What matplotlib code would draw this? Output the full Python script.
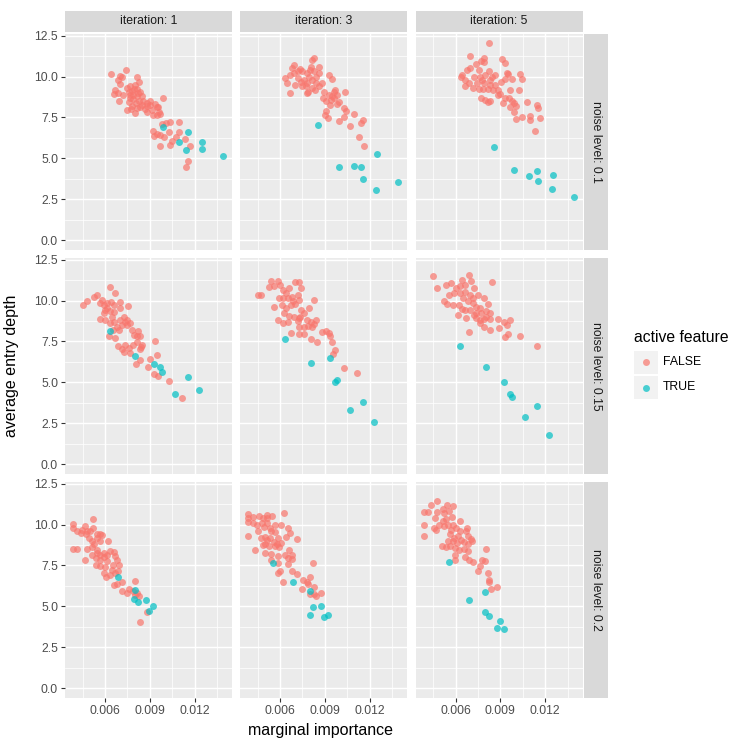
import matplotlib
matplotlib.use("Agg")
import matplotlib.pyplot as plt
from matplotlib.patches import Rectangle

plt.rcParams['font.family'] = ['Liberation Sans', 'DejaVu Sans']

iterations = [1, 3, 5]
noise_levels = [0.1, 0.15, 0.2]
legend_labels = ["FALSE", "TRUE"]
x_ticks = [6, 9, 12]          # marginal importance in units of 1e-3
x_tick_labels = ["0.006", "0.009", "0.012"]
y_ticks = [0.0, 2.5, 5.0, 7.5, 10.0, 12.5]
y_tick_labels = ["0.0", "2.5", "5.0", "7.5", "10.0", "12.5"]

# ---------------- noise 0.1, iteration 1 ----------------
t_x_01_1 = [9.89, 11.55, 10.95, 12.48, 11.44, 12.50, 13.93]
t_y_01_1 = [6.90, 6.59, 5.98, 6.02, 5.51, 5.57, 5.14]
f_x_01_1 = [6.40, 6.97, 7.41, 7.15, 6.84, 6.97, 8.17, 8.28, 6.69, 6.84, 6.62, 6.91, 7.19, 7.46, 7.97,
            7.68, 7.79, 7.90, 8.12, 8.34, 8.01, 7.64, 8.17, 7.86, 8.08, 7.79, 8.17, 8.45, 8.67, 8.56,
            9.00, 8.83, 9.12, 9.34, 9.56, 9.85, 9.23, 9.49, 9.71, 9.58, 10.07, 10.33, 10.95, 9.78, 9.18,
            9.29, 9.45, 9.71, 9.96, 10.29, 10.73, 10.46, 10.38, 9.67, 11.33, 11.66, 11.53, 11.39, 10.93,
            8.34, 7.57, 7.72, 8.83, 7.46, 7.57, 8.45, 8.78, 8.30, 7.95, 7.68, 8.23, 9.45, 9.00]
f_y_01_1 = [10.14, 10.06, 10.41, 10.00, 9.80, 9.55, 10.00, 9.65, 9.18, 8.98, 8.94, 8.51, 8.86, 7.96, 7.76,
            9.39, 9.14, 8.88, 9.22, 9.08, 9.49, 8.88, 8.78, 8.61, 8.41, 8.20, 8.10, 8.27, 8.00, 8.53,
            8.53, 8.20, 7.96, 8.33, 8.16, 8.67, 7.65, 7.65, 7.71, 7.86, 7.18, 7.24, 7.22, 7.10, 6.67,
            6.37, 6.49, 6.43, 6.31, 6.59, 6.33, 6.08, 5.82, 5.78, 6.16, 5.76, 4.86, 4.49, 6.63,
            8.16, 8.47, 8.04, 7.86, 9.29, 9.08, 8.78, 8.41, 8.51, 9.22, 8.67, 8.98, 8.12, 8.27]

# ---------------- noise 0.1, iteration 3 ----------------
t_x_01_3 = [8.54, 12.50, 9.93, 10.95, 11.44, 11.55, 12.45, 13.91]
t_y_01_3 = [7.02, 5.27, 4.47, 4.55, 4.47, 3.71, 3.08, 3.53]
f_x_01_3 = [8.30, 8.17, 6.95, 6.80, 7.33, 8.06, 8.61, 6.35, 6.44, 6.66, 6.95, 7.17, 7.02, 6.69, 7.50,
            7.77, 7.99, 8.28, 8.39, 7.61, 7.83, 8.12, 7.90, 8.12, 8.34, 8.78, 8.61, 7.72, 7.39, 9.27,
            9.49, 10.38, 9.27, 9.60, 9.71, 8.87, 9.05, 9.38, 9.60, 9.93, 9.82, 9.32, 10.27, 10.42, 9.05,
            9.00, 9.18, 10.27, 10.93, 9.96, 10.71, 11.55, 11.42, 11.30, 11.61, 8.94, 8.39, 7.50, 7.83,
            7.17, 8.61, 7.94, 9.82, 9.49]
f_y_01_3 = [11.14, 11.02, 10.71, 10.51, 10.45, 10.57, 10.61, 9.90, 9.63, 10.10, 10.20, 9.90, 9.49, 8.98, 10.31,
            10.20, 10.37, 10.31, 10.00, 9.80, 9.63, 9.80, 9.08, 9.29, 9.18, 9.63, 9.39, 9.39, 9.69, 10.10,
            9.84, 9.04, 8.88, 9.08, 9.18, 8.67, 8.53, 8.57, 8.67, 8.47, 8.33, 8.27, 8.06, 7.90, 7.90,
            7.65, 7.45, 7.55, 7.71, 7.29, 6.98, 7.35, 7.14, 6.33, 5.76, 9.08, 9.59, 9.39, 8.98,
            10.31, 10.20, 10.00, 8.88, 8.78]

# ---------------- noise 0.1, iteration 5 ----------------
t_x_01_5 = [8.59, 9.93, 10.95, 11.46, 12.52, 11.55, 12.48, 13.93]
t_y_01_5 = [5.71, 4.31, 3.94, 4.22, 4.00, 3.61, 3.10, 2.61]
f_x_01_5 = [8.25, 6.95, 7.92, 7.72, 7.92, 7.39, 9.09, 9.34, 6.99, 6.77, 7.55, 6.44, 6.33, 6.66, 6.88,
            6.66, 7.17, 7.44, 7.77, 7.99, 8.21, 8.43, 8.65, 7.92, 8.28, 8.14, 8.50, 7.83, 7.55, 9.03,
            9.32, 9.54, 9.43, 9.76, 10.31, 10.42, 9.67, 10.27, 8.87, 8.98, 8.81, 9.32, 9.58, 9.76, 9.93,
            10.04, 9.65, 9.91, 7.72, 7.99, 8.14, 8.32, 10.75, 11.42, 11.55, 10.04, 10.46, 10.97, 10.97,
            11.64, 11.33, 9.20, 8.65, 7.20, 7.66, 8.32]
f_y_01_5 = [12.06, 11.27, 11.12, 10.96, 10.88, 10.78, 11.06, 10.84, 10.51, 10.41, 10.41, 10.10, 10.00, 9.80, 9.59,
            9.39, 9.29, 9.59, 9.80, 10.10, 10.31, 10.00, 10.10, 9.59, 9.49, 9.22, 9.18, 9.22, 9.22, 9.65,
            9.84, 10.16, 10.20, 9.86, 10.16, 9.84, 9.16, 9.18, 9.18, 8.94, 8.88, 8.71, 8.71, 8.53, 8.41,
            8.20, 8.12, 7.86, 8.67, 8.57, 8.47, 8.53, 8.47, 8.27, 8.10, 7.39, 7.55, 7.61, 7.33,
            7.45, 6.69, 8.41, 9.49, 10.00, 10.00, 9.80]

# ---------------- noise 0.15, iteration 1 ----------------
t_x_015_1 = [6.35, 8.03, 9.29, 9.67, 9.78, 11.53, 12.32, 10.69]
t_y_015_1 = [8.14, 6.59, 6.12, 5.94, 5.63, 5.31, 4.53, 4.27]
f_x_015_1 = [6.31, 6.69, 5.25, 5.43, 4.76, 4.54, 5.65, 5.91, 6.13, 6.40, 6.57, 6.97, 7.52, 6.02, 6.31,
             5.91, 6.62, 7.02, 5.69, 6.02, 6.35, 6.57, 7.24, 7.35, 7.64, 7.13, 6.80, 6.53, 6.24, 6.69,
             6.91, 7.79, 8.23, 7.94, 8.12, 8.34, 7.90, 8.41, 8.34, 7.35, 6.84, 7.13, 7.28, 7.68, 8.34,
             8.08, 9.32, 9.45, 9.03, 8.85, 9.27, 9.56, 10.29, 11.15, 8.45, 7.46, 6.13, 5.82, 6.46,
             6.97, 7.46, 8.17, 7.57]
f_y_015_1 = [10.82, 10.45, 10.24, 10.31, 9.94, 9.73, 9.84, 9.73, 9.84, 9.90, 9.73, 9.90, 9.67, 9.43, 9.33,
             9.22, 9.29, 9.53, 8.88, 8.82, 8.61, 8.71, 9.02, 8.71, 8.61, 8.51, 8.41, 8.20, 7.80, 7.69,
             8.20, 8.20, 8.16, 7.90, 7.80, 7.80, 7.29, 7.18, 7.02, 7.29, 7.22, 7.04, 6.84, 6.80, 6.37,
             6.10, 7.53, 6.69, 6.41, 5.96, 5.53, 5.37, 5.08, 4.04, 7.29, 8.82, 9.53, 10.04, 9.02,
             8.82, 8.51, 7.49, 7.08]

# ---------------- noise 0.15, iteration 3 ----------------
t_x_015_3 = [6.35, 8.06, 9.32, 9.71, 9.80, 11.53, 10.69, 12.32]
t_y_015_3 = [7.67, 6.20, 6.47, 5.04, 5.12, 3.80, 3.31, 2.55]
f_x_015_3 = [5.40, 5.85, 5.25, 5.62, 7.02, 7.28, 7.41, 6.02, 4.52, 4.74, 6.18, 6.62, 6.40, 5.91, 6.18,
             6.51, 6.80, 7.17, 7.24, 8.28, 5.56, 6.13, 6.40, 6.73, 7.02, 7.39, 7.94, 7.61, 6.29, 6.62,
             6.95, 7.28, 5.87, 6.22, 7.77, 8.06, 8.39, 8.28, 7.28, 7.61, 7.90, 8.12, 6.73, 7.28, 7.61,
             8.06, 8.50, 8.78, 9.05, 9.27, 9.34, 9.45, 9.65, 9.56, 10.27, 11.15, 6.84, 7.35, 7.17, 6.55]
f_y_015_3 = [11.20, 11.22, 10.80, 10.86, 11.16, 11.12, 10.76, 10.92, 10.35, 10.33, 10.65, 10.76, 10.45, 10.14, 10.14,
             10.14, 10.24, 10.35, 10.04, 10.02, 9.63, 9.73, 9.53, 9.73, 9.78, 9.43, 9.57, 9.22, 9.22, 9.08,
             9.02, 8.92, 8.80, 8.63, 8.82, 8.71, 8.78, 8.55, 8.35, 8.41, 8.47, 8.35, 8.04, 7.94, 7.94,
             7.63, 7.45, 8.06, 8.16, 8.00, 7.86, 7.49, 6.98, 6.73, 5.90, 5.55, 9.94, 9.02, 8.73, 8.71]

# ---------------- noise 0.15, iteration 5 ----------------
t_x_015_5 = [6.31, 8.01, 9.27, 9.65, 9.76, 11.48, 10.64, 12.28]
t_y_015_5 = [7.24, 5.94, 5.04, 4.29, 4.10, 3.53, 2.86, 1.78]
f_x_015_5 = [4.52, 6.91, 4.74, 5.34, 5.67, 6.44, 7.02, 8.41, 6.00, 6.29, 6.62, 7.22, 5.91, 6.29, 5.58,
             6.62, 6.95, 7.50, 7.88, 6.51, 5.23, 5.40, 5.80, 6.24, 6.84, 7.17, 7.39, 7.66, 8.19, 6.62,
             6.95, 8.01, 8.30, 6.18, 6.73, 7.22, 7.39, 7.66, 7.88, 8.06, 7.61, 7.88, 8.28, 8.83, 9.25,
             9.47, 9.65, 8.94, 9.54, 9.29, 10.29, 6.93, 11.48, 7.17, 7.72, 6.40, 8.28, 7.39]
f_y_015_5 = [11.51, 11.57, 10.76, 10.92, 11.10, 11.27, 11.20, 11.16, 10.76, 10.86, 10.96, 10.76, 10.45, 10.45, 10.31,
             10.55, 10.35, 10.35, 10.18, 10.14, 9.98, 9.78, 9.73, 9.73, 9.94, 9.84, 9.63, 9.57, 9.78, 9.43,
             9.43, 9.33, 9.22, 9.10, 8.96, 9.12, 8.92, 8.80, 8.86, 9.02, 8.61, 8.41, 8.18, 8.86, 8.67,
             8.51, 8.80, 8.31, 7.96, 7.76, 7.86, 8.06, 7.24, 10.14, 9.22, 9.49, 8.86, 9.22]

# ---------------- noise 0.2, iteration 1 ----------------
t_x_02_1 = [6.84, 8.01, 7.94, 8.19, 8.76, 9.20, 8.96]
t_y_02_1 = [6.78, 5.98, 5.47, 5.29, 5.39, 5.02, 4.73]
f_x_02_1 = [3.88, 3.88, 4.10, 4.36, 4.63, 4.76, 5.16, 5.18, 4.98, 4.70, 5.65, 5.80, 5.47, 5.14, 6.20,
            5.69, 3.88, 4.14, 4.81, 5.14, 5.25, 5.43, 4.63, 5.47, 5.69, 5.91, 6.13, 6.35, 6.57, 5.36,
            5.65, 5.96, 6.68, 6.80, 5.36, 5.69, 5.98, 6.53, 6.91, 6.46, 5.93, 6.04, 6.33, 6.68, 6.86,
            7.13, 6.62, 6.80, 7.97, 7.13, 7.46, 7.57, 7.86, 8.12, 8.25, 8.01, 8.78, 8.34, 5.47, 4.92,
            4.47, 6.13, 5.14]
f_y_02_1 = [10.04, 9.80, 9.63, 9.49, 9.90, 9.59, 10.31, 9.80, 9.59, 9.39, 9.43, 9.35, 9.18, 8.98, 9.02,
            8.98, 8.53, 8.53, 8.53, 8.61, 8.78, 8.47, 7.80, 8.27, 8.16, 8.27, 8.12, 8.41, 8.33, 7.96,
            7.86, 8.00, 8.06, 7.86, 7.55, 7.45, 7.39, 7.51, 7.51, 7.24, 7.04, 6.78, 6.94, 7.04, 7.14,
            6.49, 6.29, 6.37, 6.53, 5.92, 5.82, 6.06, 5.92, 5.82, 5.61, 5.67, 4.65, 4.04, 9.39, 9.18,
            9.69, 7.76, 8.16]

# ---------------- noise 0.2, iteration 3 ----------------
t_x_02_3 = [5.54, 6.86, 7.97, 8.21, 8.76, 7.97, 8.96, 9.20]
t_y_02_3 = [7.65, 6.51, 5.96, 4.94, 5.02, 4.49, 4.33, 4.45]
f_x_02_3 = [3.88, 3.88, 3.88, 4.17, 4.17, 4.61, 5.09, 5.14, 5.47, 6.25, 4.87, 4.76, 5.14, 4.92, 4.54,
            4.70, 3.88, 4.32, 4.83, 5.31, 5.65, 6.09, 6.53, 5.42, 5.65, 6.69, 6.38, 7.15, 4.96, 5.11,
            5.33, 5.56, 5.78, 5.89, 5.00, 5.25, 5.00, 5.38, 5.67, 5.94, 5.85, 6.34, 6.62, 6.78, 6.82,
            6.56, 5.36, 5.89, 8.19, 6.82, 7.15, 5.98, 5.87, 6.18, 7.52, 7.79, 8.01, 7.86, 8.25, 7.46,
            8.01, 8.30, 8.41, 8.76, 6.56, 6.09, 4.43]
f_y_02_3 = [10.65, 10.41, 10.16, 10.45, 10.10, 10.51, 10.57, 10.41, 10.51, 10.71, 10.37, 10.10, 10.10, 9.84, 9.63,
            9.18, 9.27, 8.47, 8.73, 9.80, 10.00, 10.00, 9.76, 9.59, 9.53, 9.49, 9.22, 9.12, 9.22, 9.08,
            9.18, 8.94, 8.78, 9.18, 8.78, 8.67, 8.27, 8.20, 8.67, 8.61, 8.06, 8.16, 8.47, 8.16, 7.90,
            7.59, 7.80, 7.63, 7.65, 7.18, 6.98, 7.14, 7.02, 6.51, 6.63, 6.49, 6.80, 6.37, 6.20, 6.08,
            5.78, 5.78, 5.61, 5.82, 7.96, 8.88, 10.00]

# ---------------- noise 0.2, iteration 5 ----------------
t_x_02_5 = [5.56, 6.88, 7.99, 7.99, 8.21, 8.98, 8.76, 9.23]
t_y_02_5 = [7.71, 5.37, 5.86, 4.67, 4.39, 4.08, 3.65, 3.61]
f_x_02_5 = [3.88, 4.14, 4.36, 4.76, 5.43, 5.85, 5.14, 4.76, 5.25, 5.58, 4.63, 5.74, 3.88, 3.88, 4.58,
            4.70, 4.92, 5.14, 5.25, 5.51, 5.80, 6.31, 5.69, 6.02, 6.75, 6.69, 5.65, 5.91, 6.18, 6.35,
            6.80, 7.02, 7.13, 5.80, 6.09, 6.57, 6.84, 5.09, 5.36, 5.65, 5.96, 6.53, 6.80, 8.01, 5.96,
            6.62, 6.91, 5.96, 7.17, 7.79, 7.95, 7.61, 7.50, 8.17, 8.25, 8.25, 8.78, 8.39, 6.31, 5.36,
            5.47, 6.20]
f_y_02_5 = [10.78, 10.78, 11.18, 11.43, 11.22, 11.12, 10.92, 10.76, 10.71, 10.82, 10.41, 10.45, 9.94, 9.29, 9.80,
            9.69, 10.00, 10.20, 9.90, 10.00, 10.00, 10.24, 9.69, 9.80, 9.80, 9.59, 9.39, 9.18, 9.29, 9.08,
            9.29, 9.14, 8.98, 8.98, 8.88, 8.94, 8.78, 8.71, 8.63, 8.67, 8.57, 8.51, 8.37, 8.53, 8.16,
            8.00, 7.86, 7.80, 7.73, 7.86, 7.76, 7.45, 7.14, 7.04, 6.63, 6.49, 6.20, 6.04, 9.59, 10.31,
            8.98, 8.45]

panels = {
    (0, 0): (f_x_01_1, f_y_01_1, t_x_01_1, t_y_01_1),
    (0, 1): (f_x_01_3, f_y_01_3, t_x_01_3, t_y_01_3),
    (0, 2): (f_x_01_5, f_y_01_5, t_x_01_5, t_y_01_5),
    (1, 0): (f_x_015_1, f_y_015_1, t_x_015_1, t_y_015_1),
    (1, 1): (f_x_015_3, f_y_015_3, t_x_015_3, t_y_015_3),
    (1, 2): (f_x_015_5, f_y_015_5, t_x_015_5, t_y_015_5),
    (2, 0): (f_x_02_1, f_y_02_1, t_x_02_1, t_y_02_1),
    (2, 1): (f_x_02_3, f_y_02_3, t_x_02_3, t_y_02_3),
    (2, 2): (f_x_02_5, f_y_02_5, t_x_02_5, t_y_02_5),
}

W = H = 747.0
fig = plt.figure(figsize=(7.47, 7.47), dpi=100)
fig.patch.set_facecolor("white")

col_left = [65, 240, 415.5]
row_top = [34, 258, 482]
pw, ph = 167, 216

RED = "#F8766D"
CYAN = "#00BFC4"
PT = 25
ALPHA = 0.7
txt_col = "#4D4D4D"
strip_bg = "#D9D9D9"

for (r, c), (fx, fy, tx, ty) in panels.items():
    ax = fig.add_axes([col_left[c] / W, 1 - (row_top[r] + ph) / H, pw / W, ph / H])
    ax.set_facecolor("#EBEBEB")
    for s in ax.spines.values():
        s.set_visible(False)
    ax.set_xlim(3.315, 14.50)
    ax.set_ylim(-0.61, 12.6)
    ax.set_xticks(x_ticks)
    ax.set_xticks([4.5, 7.5, 10.5, 13.5], minor=True)
    ax.set_yticks(y_ticks)
    ax.set_yticks([1.25, 3.75, 6.25, 8.75, 11.25], minor=True)
    ax.grid(True, which="major", color="white", linewidth=1.07)
    ax.grid(True, which="minor", color="white", linewidth=0.53)
    ax.set_axisbelow(True)
    ax.tick_params(which="minor", length=0)
    ax.tick_params(which="major", length=3, width=0.8, color="#333333",
                   labelcolor=txt_col, labelsize=8.8, pad=2)
    if r == 2:
        ax.set_xticklabels(x_tick_labels)
    else:
        ax.tick_params(axis="x", which="major", length=0, labelbottom=False)
    if c == 0:
        ax.set_yticklabels(y_tick_labels)
    else:
        ax.tick_params(axis="y", which="major", length=0, labelleft=False)
    ax.scatter(fx, fy, s=PT, color=RED, alpha=ALPHA, linewidths=0, zorder=3)
    ax.scatter(tx, ty, s=PT, color=CYAN, alpha=ALPHA, linewidths=0, zorder=3)

# top strips
for c, it in enumerate(iterations):
    sax = fig.add_axes([col_left[c] / W, 1 - 31.5 / H, pw / W, 21 / H])
    sax.set_facecolor(strip_bg)
    sax.set_xticks([]); sax.set_yticks([])
    for s in sax.spines.values():
        s.set_visible(False)
    sax.text(0.5, 0.5, f"iteration: {it}", ha="center", va="center",
             fontsize=8.8, color="#1A1A1A", transform=sax.transAxes)

# right strips
for r, nl in enumerate(noise_levels):
    sax = fig.add_axes([584 / W, 1 - (row_top[r] + ph) / H, 24 / W, ph / H])
    sax.set_facecolor(strip_bg)
    sax.set_xticks([]); sax.set_yticks([])
    for s in sax.spines.values():
        s.set_visible(False)
    sax.text(0.5, 0.5, f"noise level: {nl}", ha="center", va="center", rotation=-90,
             fontsize=8.8, color="#1A1A1A", transform=sax.transAxes)

# axis titles
fig.text(321 / W, 1 - 730 / H, "marginal importance", ha="center", va="center",
         fontsize=11.5, color="black")
fig.text(12 / W, 1 - 366 / H, "average entry depth", ha="center", va="center",
         rotation=90, fontsize=11.5, color="black")

# legend
lax = fig.add_axes([0, 0, 1, 1], facecolor="none")
lax.set_xlim(0, W); lax.set_ylim(H, 0)
lax.axis("off")
lax.text(634, 338, "active feature", ha="left", va="center", fontsize=11.3, color="black")
for i, (lab, col) in enumerate(zip(legend_labels, [RED, CYAN])):
    y0 = 350.5 + i * 25.5
    lax.add_patch(Rectangle((634, y0), 24, 23, facecolor="#F2F2F2", edgecolor="none"))
    lax.scatter([646], [y0 + 11.5], s=PT, color=col, alpha=ALPHA, linewidths=0)
    lax.text(663, y0 + 11.5, lab, ha="left", va="center", fontsize=8.8, color="black")

fig.savefig("out.png", dpi=100)
